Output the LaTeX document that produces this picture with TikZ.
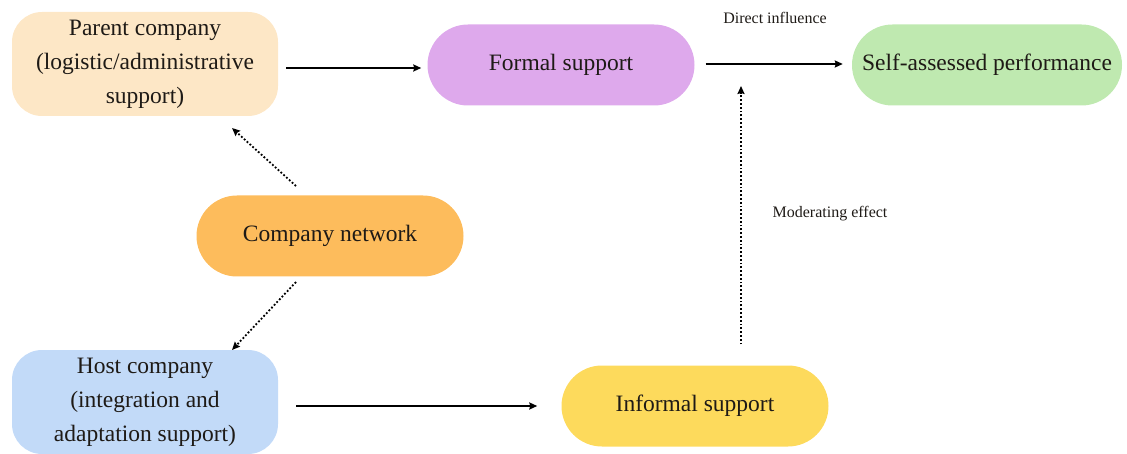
\documentclass[tikz,border=0pt]{standalone}
\usepackage{fontspec}
\setmainfont{Liberation Serif}
\usetikzlibrary{arrows.meta,shapes.misc,calc}
\definecolor{peach}{HTML}{FDE7C6}
\definecolor{lilac}{HTML}{DEA9EC}
\definecolor{mint}{HTML}{BFE9B0}
\definecolor{amber}{HTML}{FDBC5C}
\definecolor{sky}{HTML}{C2DAF8}
\definecolor{butter}{HTML}{FDDA5C}
\definecolor{ink}{HTML}{1E1A16}
\tikzset{
  boxtext/.style={font=\fontsize{23.5}{34}\selectfont, text=ink, align=center, inner sep=0pt},
  squarebox/.style={boxtext, rectangle, rounded corners=30pt, minimum width=266pt, minimum height=104pt},
  pill/.style={boxtext, rounded rectangle, minimum width=267pt, minimum height=81pt},
  solidarrow/.style={line width=1.7pt, -{Stealth[length=8pt,width=7pt,inset=1pt]}},
  dotarrow/.style={line width=1.8pt, dotted, -{Stealth[length=8pt,width=7pt,inset=1pt]}},
  smalltext/.style={font=\fontsize{16}{18}\selectfont, text=ink, inner sep=0pt}
}
\begin{document}
\begin{tikzpicture}[x=1pt,y=-1pt]
  \useasboundingbox (0,0) rectangle (1127,454);
  % boxes
  \node[squarebox, fill=peach] (parent) at (145,64) {Parent company\\(logistic/administrative\\support)};
  \node[pill, fill=lilac] (formal) at (561,65) {Formal support};
  \node[pill, fill=mint, minimum width=270pt] (perf) at (987,65) {Self-assessed performance};
  \node[pill, fill=amber] (network) at (330,236) {Company network};
  \node[squarebox, fill=sky] (host) at (145,402) {Host company\\(integration and\\adaptation support)};
  \node[pill, fill=butter] (informal) at (695,406) {Informal support};
  % labels
  \node[smalltext] (direct) at (775,18) {Direct influence};
  \node[smalltext] (moderating) at (830,214) {Moderating effect};
  % anchor points for the connectors
  \coordinate (netup) at ($(network.center)+(-34,-50)$);
  \coordinate (parentlow) at ($(parent.center)+(87,64)$);
  \coordinate (netdown) at ($(network.center)+(-34,46)$);
  \coordinate (hosttop) at ($(host.center)+(87,-52)$);
  \coordinate (modtarget) at (741,86);
  \coordinate (modstart) at ($(informal.north)+(46,-21)$);
  % connectors
  \draw[solidarrow] ($(parent.east)+(8,4)$) -- ($(formal.west)+(-6,3)$);
  \draw[solidarrow] ($(formal.east)+(11,-1)$) -- ($(perf.west)+(-9,-1)$);
  \draw[solidarrow] ($(host.east)+(18,4)$) -- ($(informal.west)+(-24,0)$);
  \draw[dotarrow] (netup) -- (parentlow);
  \draw[dotarrow] (netdown) -- (hosttop);
  \draw[dotarrow] (modstart) -- (modtarget);
\end{tikzpicture}
\end{document}
